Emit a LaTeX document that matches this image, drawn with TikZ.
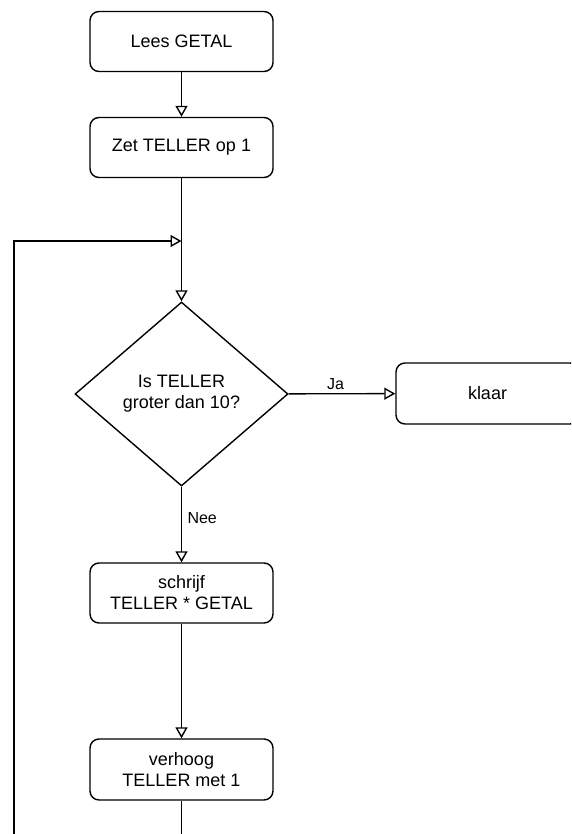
\documentclass[tikz,border=0pt]{standalone}
\usepackage{fontspec}
\setmainfont{Liberation Sans}
\usetikzlibrary{arrows.meta, shapes.geometric}

\begin{document}
\begin{tikzpicture}[x=1pt, y=-1pt, >={Triangle[open, length=11pt, width=12pt]},
    line width=1.4pt,
    stap/.style={draw, rounded corners=9pt, minimum width=183pt, minimum height=60pt,
        align=center, font=\fontsize{18}{21}\selectfont},
    keuze/.style={draw, diamond, minimum width=213pt, minimum height=184pt, inner sep=0pt,
        align=center, font=\fontsize{18}{21}\selectfont},
    lbl/.style={font=\fontsize{16}{19}\selectfont}]
    \clip (0,0) rectangle (571,834);

    \node[stap] (lees) at (181.5,41.5) {Lees GETAL};
    \node[stap] (zet) at (181.5,147.5) {Zet TELLER op 1};
    \node[keuze] (test) at (181.5,394) {Is TELLER\\groter dan 10?};
    \node[stap, minimum height=61pt] (klaar) at (487.5,393.5) {klaar};
    \node[stap] (schrijf) at (181.5,593) {schrijf\\TELLER * GETAL};
    \node[stap, minimum height=61pt] (verhoog) at (181.5,769.5) {verhoog\\TELLER met 1};

    \coordinate (samen) at (181.5,241);
    \coordinate (onderR) at (181.5,840);
    \coordinate (onderL) at (14,840);

    \draw[->] (lees) -- (zet);
    \draw[->] (zet) -- (test);
    \draw[->] (test) -- node[lbl, above, pos=0.44] {Ja} (klaar);
    \draw[->] (test) -- node[lbl, right, xshift=2pt, pos=0.42] {Nee} (schrijf);
    \draw[->] (schrijf) -- (verhoog);
    \draw (verhoog) -- (onderR);
    \draw[->] (onderL) |- (samen);
\end{tikzpicture}
\end{document}
